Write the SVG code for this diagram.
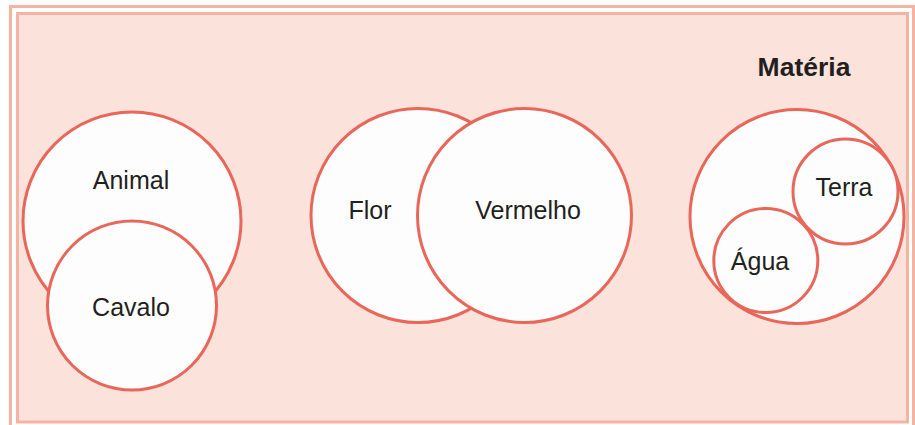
<svg xmlns="http://www.w3.org/2000/svg" width="915" height="425" viewBox="0 0 915 425">
  <style>
    .frame { fill: none; stroke: #F5B3A3; stroke-width: 3; }
    .set { fill: #FDFDFD; stroke: #E8675A; stroke-width: 3; }
    .lbl { font-family: "Liberation Sans", Arial, sans-serif; font-size: 25px; fill: #231F20; text-anchor: middle; }
    .title { font-family: "Liberation Sans", Arial, sans-serif; font-size: 26.5px; font-weight: bold; fill: #231F20; text-anchor: middle; }
  </style>
  <rect x="0" y="0" width="915" height="425" fill="#FFFFFF"/>
  <rect class="frame" x="10.5" y="6.5" width="903" height="421"/>
  <rect x="17.5" y="13.5" width="890" height="408.5" fill="#FBE3DB" stroke="#F5B3A3" stroke-width="3"/>

  <g id="animal-cavalo">
    <g id="animal">
      <circle class="set" cx="132" cy="221" r="109"/>
      <text class="lbl" x="131" y="189">Animal</text>
    </g>
    <g id="cavalo">
      <circle class="set" cx="132" cy="305.5" r="84.5"/>
      <text class="lbl" x="131" y="316">Cavalo</text>
    </g>
  </g>

  <g id="flor-vermelho">
    <g id="flor">
      <circle class="set" cx="418" cy="215.5" r="107"/>
      <text class="lbl" x="370" y="219">Flor</text>
    </g>
    <g id="vermelho">
      <circle class="set" cx="524.5" cy="215.5" r="107"/>
      <text class="lbl" x="528" y="219">Vermelho</text>
    </g>
  </g>

  <g id="materia">
    <text class="title" x="804" y="76">Matéria</text>
    <circle class="set" cx="797" cy="216.5" r="107"/>
    <g id="terra">
      <circle class="set" cx="845.5" cy="191.5" r="52.5"/>
      <text class="lbl" x="844" y="196">Terra</text>
    </g>
    <g id="agua">
      <circle class="set" cx="765.8" cy="260.5" r="52"/>
      <text class="lbl" x="760" y="270">Água</text>
    </g>
  </g>

  <g id="connectors"/>
</svg>
